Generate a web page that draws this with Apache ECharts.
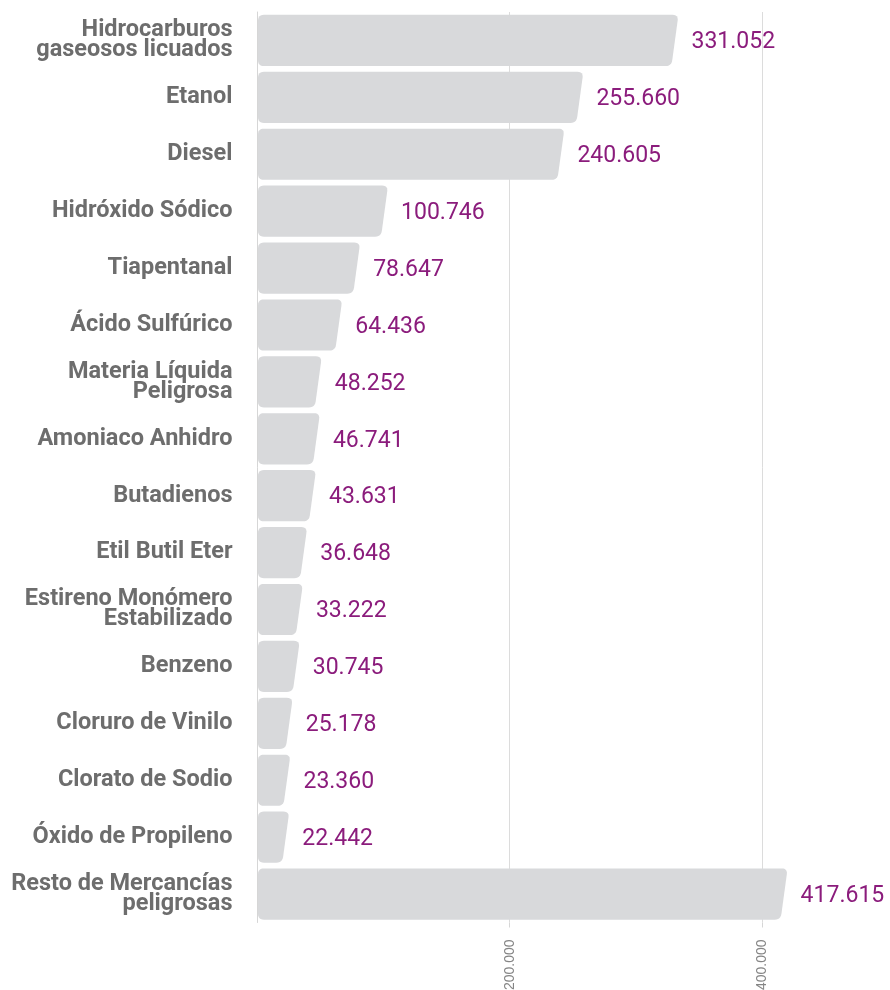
<!DOCTYPE html>
<html>
<head>
<meta charset="utf-8">
<style>
  html, body { margin: 0; padding: 0; background: #ffffff; }
  #chart { width: 890px; height: 990px; }
</style>
<script src="https://cdn.jsdelivr.net/npm/echarts@6/dist/echarts.min.js"></script>
</head>
<body>
<div id="chart"></div>
<script>
// Mercancías peligrosas transportadas (toneladas)
const categories = [
  'Hidrocarburos\ngaseosos licuados',
  'Etanol',
  'Diesel',
  'Hidróxido Sódico',
  'Tiapentanal',
  'Ácido Sulfúrico',
  'Materia Líquida\nPeligrosa',
  'Amoniaco Anhidro',
  'Butadienos',
  'Etil Butil Eter',
  'Estireno Monómero\nEstabilizado',
  'Benzeno',
  'Cloruro de Vinilo',
  'Clorato de Sodio',
  'Óxido de Propileno',
  'Resto de Mercancías\npeligrosas'
];
const tonnes = [331052, 255660, 240605, 100746, 78647, 64436, 48252, 46741,
                43631, 36648, 33222, 30745, 25178, 23360, 22442, 417615];
const axisTicks = [0, 200000, 400000];

const BAR_COLOR = '#d8d9db';
const VALUE_COLOR = '#8b1c7c';
const CAT_COLOR = '#6d6d6d';

function fmt(v) {
  return String(v).replace(/\B(?=(\d{3})+(?!\d))/g, '.');
}

// rounded bar with a slanted right end
function barShape(x0, xv, yc, h) {
  const slant = 7;
  const r = 6;
  const y0 = yc - h / 2, y1 = yc + h / 2;
  const xt = xv + slant / 2, xb = xv - slant / 2;
  const k = slant / h;
  const pts = [[x0 + r, y0]];
  function quad(p0, c, p2, n) {
    for (let i = 0; i <= n; i++) {
      const t = i / n, u = 1 - t;
      pts.push([u * u * p0[0] + 2 * u * t * c[0] + t * t * p2[0],
                u * u * p0[1] + 2 * u * t * c[1] + t * t * p2[1]]);
    }
  }
  const n = 6;
  quad([xt - r, y0], [xt, y0], [xt - k * r, y0 + r], n);
  quad([xb + k * r, y1 - r], [xb, y1], [xb - r, y1], n);
  quad([x0 + r, y1], [x0, y1], [x0, y1 - r], n);
  quad([x0, y0 + r], [x0, y0], [x0 + r, y0], n);
  return { pts, xt };
}

const chart = echarts.init(document.getElementById('chart'), null, { renderer: 'canvas' });

chart.setOption({
  animation: false,
  backgroundColor: '#ffffff',
  grid: { left: 257.5, right: 2, top: 12, bottom: 67.5, containLabel: false, outerBoundsMode: 'none' },
  xAxis: {
    type: 'value',
    min: axisTicks[0],
    max: 500000,
    interval: axisTicks[1] - axisTicks[0],
    axisLine: { show: false },
    axisTick: { show: true, length: 5, lineStyle: { color: '#d6d6d6' } },
    splitLine: { show: true, showMinLine: false, showMaxLine: false, lineStyle: { color: '#dcdcdc', width: 1 } },
    axisLabel: {
      rotate: 90,
      margin: 17,
      showMinLabel: false,
      showMaxLabel: false,
      color: '#858585',
      fontFamily: 'Liberation Sans',
      fontSize: 14,
      formatter: v => fmt(v)
    }
  },
  yAxis: {
    type: 'category',
    inverse: true,
    data: categories,
    axisLine: { show: true, lineStyle: { color: '#d6d6d6', width: 1 } },
    axisTick: { show: false },
    axisLabel: {
      margin: 25,
      color: CAT_COLOR,
      fontFamily: 'Roboto',
      fontWeight: 'bold',
      fontSize: 23.5,
      lineHeight: 20,
      align: 'right'
    }
  },
  series: [{
    type: 'custom',
    data: tonnes.map((v, i) => [v, i]),
    encode: { x: 0, y: 1 },
    renderItem: function (params, api) {
      const v = api.value(0);
      const idx = api.value(1);
      const end = api.coord([v, idx]);
      const start = api.coord([0, idx]);
      const h = api.size([0, 1])[1] * 0.9;
      const shape = barShape(start[0] + 0.5, end[0], end[1], h);
      return {
        type: 'group',
        children: [{
          type: 'polygon',
          shape: { points: shape.pts },
          style: { fill: BAR_COLOR }
        }, {
          type: 'text',
          x: shape.xt + 13,
          y: end[1] + 2,
          style: {
            text: fmt(v),
            fill: VALUE_COLOR,
            fontFamily: 'Roboto',
            fontSize: 23,
            verticalAlign: 'middle',
            align: 'left'
          }
        }]
      };
    }
  }]
});
</script>
</body>
</html>
